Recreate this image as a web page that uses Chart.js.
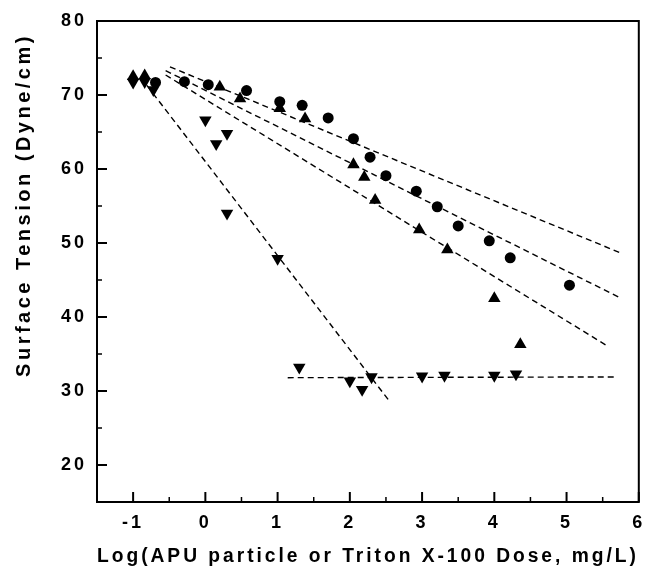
<!DOCTYPE html>
<html>
<head>
<meta charset="utf-8">
<script src="https://cdn.jsdelivr.net/npm/chart.js@4.4.0/dist/chart.umd.min.js"></script>
<style>
  html, body { margin: 0; padding: 0; background: #fff; }
  canvas { display: block; }
</style>
</head>
<body>
<canvas id="tensionChart" width="646" height="573"></canvas>
<script>
(function() {
  'use strict';

  // circles
  var circleX = [-0.69, -0.29, 0.04, 0.57, 1.03, 1.34, 1.70, 2.05, 2.28, 2.50, 2.92, 3.21, 3.50, 3.93, 4.22, 5.04];
  var circleY = [71.7, 71.8, 71.4, 70.6, 69.1, 68.6, 66.9, 64.1, 61.6, 59.1, 57.0, 54.9, 52.3, 50.3, 48.0, 44.3];

  // up triangles
  var upX = [-1.00, -0.84, 0.20, 0.48, 1.03, 1.38, 2.05, 2.20, 2.35, 2.96, 3.35, 4.00, 4.36];
  var upY = [72.5, 72.6, 71.1, 69.5, 68.2, 66.8, 60.6, 58.9, 55.8, 51.8, 49.1, 42.5, 36.3];

  // down triangles
  var downX = [-1.00, -0.84, -0.72, 0.00, 0.15, 0.30, 0.30, 1.00, 1.30, 2.00, 2.17, 2.30, 3.00, 3.31, 4.00, 4.30];
  var downY = [71.7, 71.8, 70.7, 66.6, 63.4, 64.8, 54.0, 47.9, 33.2, 31.35, 30.2, 31.9, 32.0, 32.1, 32.1, 32.3];

  // dashed fit lines (end points)
  var fitAX = [-0.49, 5.75], fitAY = [73.8, 48.65];
  var fitBX = [-0.55, 5.74], fitBY = [73.3, 42.6];
  var fitCX = [-0.55, 5.58], fitCY = [72.7, 36.0];
  var fitDX = [-0.81, 2.55], fitDY = [71.3, 28.6];
  var fitEX = [1.14, 5.69],  fitEY = [31.8, 31.9];

  var xTicks = [-1, 0, 1, 2, 3, 4, 5, 6];
  var yTicks = [20, 30, 40, 50, 60, 70, 80];
  var xMinor = [-0.5, 0.5, 1.5, 2.5, 3.5, 4.5, 5.5];
  var yMinor = [25, 35, 45, 55, 65, 75];

  var xTitle = 'Log(APU particle or Triton X-100 Dose, mg/L)';
  var yTitle = 'Surface Tension (Dyne/cm)';

  var fontFamily = '"Liberation Sans", Arial, Helvetica, sans-serif';

  function pts(xs, ys) {
    return xs.map(function(x, i) { return { x: x, y: ys[i] }; });
  }

  function markerSet(xs, ys, style, radius, rotation) {
    return {
      data: pts(xs, ys),
      showLine: false,
      pointStyle: style,
      pointRadius: radius,
      pointRotation: rotation,
      pointBackgroundColor: '#000',
      pointBorderColor: '#000',
      pointBorderWidth: 0,
      order: 0
    };
  }

  function fitSet(xs, ys) {
    return {
      data: pts(xs, ys),
      showLine: true,
      pointRadius: 0,
      borderColor: '#000',
      borderWidth: 1.4,
      borderDash: [6, 4],
      fill: false,
      order: 1
    };
  }

  // frame, inside ticks and the rotated y title
  var frameTicks = {
    id: 'frameTicks',
    beforeDraw: function(chart) {
      chart.ctx.letterSpacing = '3px';
    },
    afterDraw: function(chart) {
      var ctx = chart.ctx;
      var a = chart.chartArea;
      var sx = chart.scales.x, sy = chart.scales.y;
      ctx.save();
      ctx.strokeStyle = '#000';
      ctx.lineWidth = 2;
      ctx.strokeRect(a.left, a.top, a.right - a.left, a.bottom - a.top);

      function tick(x1, y1, x2, y2, w) {
        ctx.lineWidth = w;
        ctx.beginPath();
        ctx.moveTo(x1, y1);
        ctx.lineTo(x2, y2);
        ctx.stroke();
      }
      xTicks.forEach(function(v) {
        var px = sx.getPixelForValue(v);
        tick(px, a.bottom, px, a.bottom - 10, 2);
      });
      xMinor.forEach(function(v) {
        var px = sx.getPixelForValue(v);
        tick(px, a.bottom, px, a.bottom - 5, 1.5);
      });
      yTicks.forEach(function(v) {
        var py = sy.getPixelForValue(v);
        tick(a.left, py, a.left + 10, py, 2);
      });
      yMinor.forEach(function(v) {
        var py = sy.getPixelForValue(v);
        tick(a.left, py, a.left + 5, py, 1.5);
      });

      ctx.translate(24, 205);
      ctx.rotate(-Math.PI / 2);
      ctx.font = 'bold 20px ' + fontFamily;
      ctx.fillStyle = '#000';
      ctx.textAlign = 'center';
      ctx.textBaseline = 'middle';
      ctx.letterSpacing = '3.5px';
      ctx.fillText(yTitle, 0, 0);
      ctx.restore();
    }
  };

  var ctx = document.getElementById('tensionChart').getContext('2d');
  new Chart(ctx, {
    type: 'scatter',
    data: {
      datasets: [
        markerSet(circleX, circleY, 'circle', 5.5, 0),
        markerSet(upX, upY, 'triangle', 7.2, 0),
        markerSet(downX, downY, 'triangle', 7.2, 180),
        fitSet(fitAX, fitAY),
        fitSet(fitBX, fitBY),
        fitSet(fitCX, fitCY),
        fitSet(fitDX, fitDY),
        fitSet(fitEX, fitEY)
      ]
    },
    options: {
      responsive: false,
      animation: false,
      layout: { padding: { top: 21, right: 5, bottom: 0, left: 0 } },
      plugins: {
        legend: { display: false },
        tooltip: { enabled: false }
      },
      scales: {
        x: {
          type: 'linear',
          min: -1.5,
          max: 6,
          grid: { display: false, drawTicks: false },
          border: { display: false },
          afterBuildTicks: function(scale) {
            scale.ticks = xTicks.map(function(v) { return { value: v }; });
          },
          afterFit: function(scale) {
            scale.height = 71;
            scale.paddingLeft = 0;
            scale.paddingRight = 0;
          },
          ticks: {
            color: '#000',
            padding: 10,
            maxRotation: 0,
            autoSkip: false,
            font: { family: fontFamily, size: 18, weight: 'bold' }
          },
          title: {
            display: true,
            text: xTitle,
            color: '#000',
            padding: { top: 0, bottom: 5 },
            font: { family: fontFamily, size: 19.5, weight: 'bold', lineHeight: 1.2 }
          }
        },
        y: {
          type: 'linear',
          min: 15,
          max: 80,
          grid: { display: false, drawTicks: false },
          border: { display: false },
          afterBuildTicks: function(scale) {
            scale.ticks = yTicks.map(function(v) { return { value: v }; });
          },
          afterFit: function(scale) {
            scale.width = 97;
            scale.paddingTop = 0;
            scale.paddingBottom = 0;
          },
          ticks: {
            color: '#000',
            padding: 10,
            autoSkip: false,
            font: { family: fontFamily, size: 18, weight: 'bold' }
          }
        }
      }
    },
    plugins: [frameTicks]
  });
})();
</script>
</body>
</html>
